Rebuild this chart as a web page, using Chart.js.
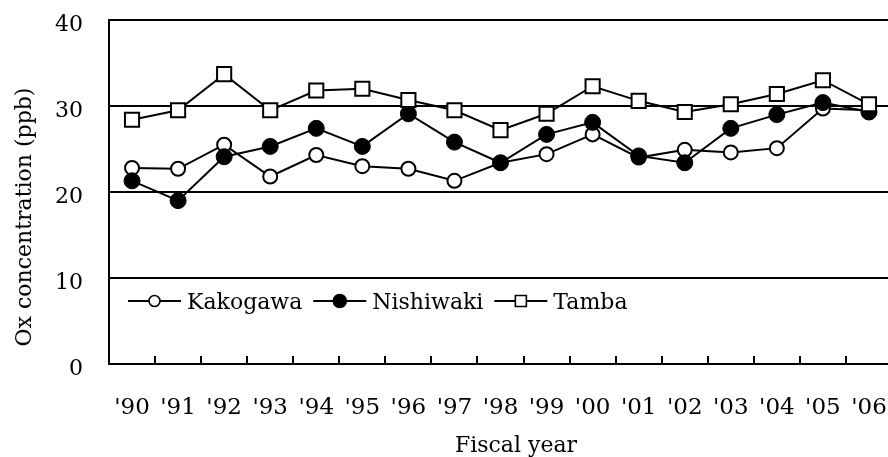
<!DOCTYPE html>
<html>
<head>
<meta charset="utf-8">
<script src="https://cdn.jsdelivr.net/npm/chart.js@4.4.1/dist/chart.umd.min.js"></script>
<style>
  html, body { margin: 0; padding: 0; background: #fff; overflow: hidden; }
  #wrap { position: relative; width: 904px; height: 457px; }
</style>
</head>
<body>
<div id="wrap"><canvas id="c"></canvas></div>
<script>
// Annual mean Ox concentration (ppb) by monitoring station
const years = ["'90", "'91", "'92", "'93", "'94", "'95", "'96", "'97", "'98", "'99", "'00", "'01", "'02", "'03", "'04", "'05", "'06"];
const kakogawa  = [22.8, 22.7, 25.5, 21.8, 24.3, 23.0, 22.7, 21.3, 23.4, 24.4, 26.7, 24.0, 24.9, 24.6, 25.1, 29.7, 29.5];
const nishiwaki = [21.3, 19.0, 24.1, 25.3, 27.4, 25.3, 29.1, 25.8, 23.4, 26.7, 28.1, 24.2, 23.4, 27.4, 29.0, 30.4, 29.3];
const tamba     = [28.4, 29.5, 33.7, 29.5, 31.8, 32.0, 30.7, 29.5, 27.2, 29.1, 32.3, 30.6, 29.3, 30.2, 31.4, 33.0, 30.2];
const yTicks = [0, 10, 20, 30, 40];

const yTitle = 'Ox concentration (ppb)';
const xTitle = 'Fiscal year';

const FONT = "'DejaVu Serif', 'Liberation Serif', serif";
Chart.defaults.font.family = FONT;
Chart.defaults.color = '#000';

// small tick marks pointing up into the plot, at the category boundaries
const innerTicks = {
  id: 'innerTicks',
  beforeDatasetsDraw(chart) {
    const { ctx, chartArea: a, scales: { x } } = chart;
    const step = x.getPixelForValue(1) - x.getPixelForValue(0);
    ctx.save();
    ctx.strokeStyle = '#000';
    ctx.lineWidth = 2;
    for (let i = 1; i < x.ticks.length; i++) {
      const px = Math.round(x.getPixelForValue(i) - step / 2);
      ctx.beginPath();
      ctx.moveTo(px, a.bottom);
      ctx.lineTo(px, a.bottom - 8);
      ctx.stroke();
    }
    ctx.restore();
  }
};

// legend drawn inside the plot area, plus the two axis titles
const overlay = {
  id: 'overlay',
  afterDraw(chart) {
    const { ctx, chartArea: a } = chart;
    ctx.save();
    ctx.fillStyle = '#000';
    ctx.strokeStyle = '#000';
    ctx.font = '22px ' + FONT;
    ctx.textBaseline = 'alphabetic';

    const ly = a.top + 281;
    let lx = a.left + 19;
    chart.data.datasets.forEach(ds => {
      ctx.lineWidth = 2;
      ctx.beginPath();
      ctx.moveTo(lx, ly);
      ctx.lineTo(lx + 53, ly);
      ctx.stroke();
      const mx = lx + 26.5;
      ctx.beginPath();
      if (ds.pointStyle === 'rect') {
        ctx.rect(mx - 5.5, ly - 5.5, 11, 11);
      } else {
        ctx.arc(mx, ly, ds.pointBackgroundColor === '#000' ? 6.5 : 5.5, 0, Math.PI * 2);
      }
      ctx.fillStyle = ds.pointBackgroundColor;
      ctx.fill();
      ctx.lineWidth = 1.6;
      ctx.stroke();
      ctx.fillStyle = '#000';
      ctx.textAlign = 'left';
      ctx.fillText(ds.label, lx + 59, ly + 8);
      lx += 59 + ctx.measureText(ds.label).width + 11;
    });

    ctx.textAlign = 'center';
    ctx.fillText(xTitle, 516, 452);

    ctx.translate(31, 217);
    ctx.rotate(-Math.PI / 2);
    ctx.fillText(yTitle, 0, 0);
    ctx.restore();
  }
};

new Chart(document.getElementById('c'), {
  type: 'line',
  data: {
    labels: years,
    datasets: [
      {
        label: 'Kakogawa', data: kakogawa, order: 2,
        borderColor: '#000', borderWidth: 2, tension: 0,
        pointStyle: 'circle', pointRadius: 7, pointBackgroundColor: '#fff',
        pointBorderColor: '#000', pointBorderWidth: 2
      },
      {
        label: 'Nishiwaki', data: nishiwaki, order: 1,
        borderColor: '#000', borderWidth: 2, tension: 0,
        pointStyle: 'circle', pointRadius: 8, pointBackgroundColor: '#000',
        pointBorderColor: '#000', pointBorderWidth: 1
      },
      {
        label: 'Tamba', data: tamba, order: 0,
        borderColor: '#000', borderWidth: 2, tension: 0,
        pointStyle: 'rect', pointRadius: 10, pointBackgroundColor: '#fff',
        pointBorderColor: '#000', pointBorderWidth: 2
      }
    ]
  },
  options: {
    responsive: true,
    maintainAspectRatio: false,
    animation: false,
    layout: { padding: { top: 20, right: 1, bottom: 0, left: 0 } },
    plugins: { legend: { display: false }, tooltip: { enabled: false } },
    scales: {
      x: {
        offset: true,
        grid: { display: false, drawTicks: false },
        border: { display: true, color: '#000', width: 2 },
        ticks: { font: { size: 23 }, padding: 30, maxRotation: 0, autoSkip: false },
        afterFit(s) { s.height = 93; s.paddingLeft = 0; s.paddingRight = 0; }
      },
      y: {
        min: 0, max: 40,
        afterBuildTicks(s) { s.ticks = yTicks.map(v => ({ value: v })); },
        grid: { color: '#000', lineWidth: 2, drawTicks: false },
        border: { display: true, color: '#000', width: 2 },
        ticks: { font: { size: 22 }, padding: 26, labelOffset: 5 },
        afterFit(s) { s.width = 109; s.paddingTop = 0; s.paddingBottom = 0; }
      }
    }
  },
  plugins: [innerTicks, overlay]
});
</script>
</body>
</html>
